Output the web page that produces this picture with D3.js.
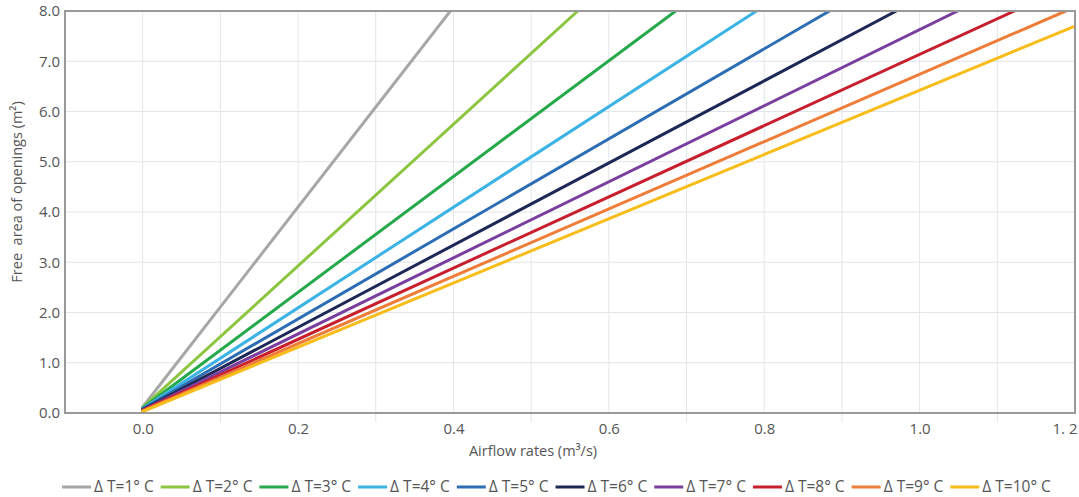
<!DOCTYPE html>
<html><head><meta charset="utf-8">
<script src="https://cdn.jsdelivr.net/npm/d3@7"></script>
<style>
body{margin:0;background:#fff;}
text{font-family:"Open Sans",sans-serif;}
</style></head>
<body><svg id="c" width="1079" height="497"></svg>
<script>
const seriesNames = ["Δ T=1° C","Δ T=2° C","Δ T=3° C","Δ T=4° C","Δ T=5° C","Δ T=6° C","Δ T=7° C","Δ T=8° C","Δ T=9° C","Δ T=10° C"];
const seriesColors = ["#a7a7a7","#8cc641","#25a94a","#3bb3e5","#2c6db4","#1e2857","#7a3f9e","#c71f2d","#ef7d3a","#f8bd1a"];
const xStart = [0,0,0,0,0,0,0,0,0,0];
const yStart = [0.12,0.11,0.10,0.09,0.08,0.07,0.06,0.05,0.04,0.03];
const xEnd = [0.396,0.560,0.686,0.790,0.884,0.970,1.049,1.122,1.188,1.2];
const yEnd = [8.0,8.0,8.0,8.0,8.0,8.0,8.0,8.0,8.0,7.70];
const xTicks = [0.0,0.2,0.4,0.6,0.8,1.0,1.2];
const xTickLabels = ["0.0","0.2","0.4","0.6","0.8","1.0","1. 2"];
const xGrid = [0.0,0.1,0.2,0.3,0.4,0.5,0.6,0.7,0.8,0.9,1.0,1.1];
const yTicks = [0,1,2,3,4,5,6,7,8];
const yTickLabels = ["0.0","1.0","2.0","3.0","4.0","5.0","6.0","7.0","8.0"];

const svg = d3.select("#c");
const L=65,R=1075,T=11,B=413;
const x = d3.scaleLinear().domain([-0.1,1.2]).range([L,R]);
const y = d3.scaleLinear().domain([0,8]).range([B,T]);

// grid
svg.append("g").selectAll("line").data(xGrid).join("line")
  .attr("x1",d=>x(d)).attr("x2",d=>x(d)).attr("y1",T)
  .attr("y2",(d,i)=> i%2===1 ? B+9 : B)
  .attr("stroke","#e2e6ea").attr("stroke-width",1);
svg.append("g").selectAll("line").data(yTicks.slice(1,-1)).join("line")
  .attr("x1",L).attr("x2",R).attr("y1",d=>y(d)).attr("y2",d=>y(d))
  .attr("stroke","#e2e6ea").attr("stroke-width",1);

// lines
svg.append("defs").append("clipPath").attr("id","clip").append("rect")
  .attr("x",L).attr("y",T).attr("width",R-L).attr("height",B-T);
const lineGen = d3.line().x(d=>x(d[0])).y(d=>y(d[1]));
const g = svg.append("g").attr("clip-path","url(#clip)");
seriesNames.forEach((n,i)=>{
  g.append("path").datum([[xStart[i],yStart[i]],[xEnd[i],yEnd[i]]])
    .attr("d",lineGen).attr("fill","none").attr("stroke",seriesColors[i])
    .attr("stroke-width",3).attr("stroke-linecap","round");
});

// frame
svg.append("rect").attr("x",L).attr("y",T).attr("width",R-L).attr("height",B-T)
  .attr("fill","none").attr("stroke","#9a9a9a").attr("stroke-width",2);

// axes
const xAxis = d3.axisBottom(x).tickValues(xTicks).tickSize(0).tickPadding(10)
  .tickFormat((d,i)=>xTickLabels[i]);
const gx = svg.append("g").attr("transform",`translate(0,${B})`).call(xAxis);
gx.select(".domain").remove();
gx.selectAll("text").attr("font-size",15).attr("fill","#555").attr("font-family","Open Sans");
gx.selectAll("text").filter((d,i)=>i===xTicks.length-1).attr("text-anchor","end").attr("dx",2);

const yAxis = d3.axisLeft(y).tickValues(yTicks).tickSize(0).tickPadding(5)
  .tickFormat((d,i)=>yTickLabels[i]);
const gy = svg.append("g").attr("transform",`translate(${L},0)`).call(yAxis);
gy.select(".domain").remove();
gy.selectAll("text").attr("font-size",15).attr("fill","#555").attr("font-family","Open Sans");

svg.append("text").attr("x",533).attr("y",456).attr("text-anchor","middle")
  .attr("font-size",14.5).attr("fill","#555").text("Airflow rates (m³/s)");
svg.append("text").attr("transform","translate(22,192) rotate(-90)")
  .attr("text-anchor","middle").attr("font-size",14.5).attr("fill","#555")
  .style("white-space","pre").text("Free  area of openings (m²)");

// legend
const leg = svg.append("g");
let lx = 62; const ly = 487;
seriesNames.forEach((n,i)=>{
  leg.append("line").attr("x1",lx).attr("x2",lx+29).attr("y1",ly).attr("y2",ly)
    .attr("stroke",seriesColors[i]).attr("stroke-width",3);
  const t = leg.append("text").attr("x",lx+32).attr("y",ly+5).attr("font-size",15.5)
    .attr("fill","#555").text(n);
  lx += 32 + t.node().getComputedTextLength() + 7;
});
</script></body></html>
